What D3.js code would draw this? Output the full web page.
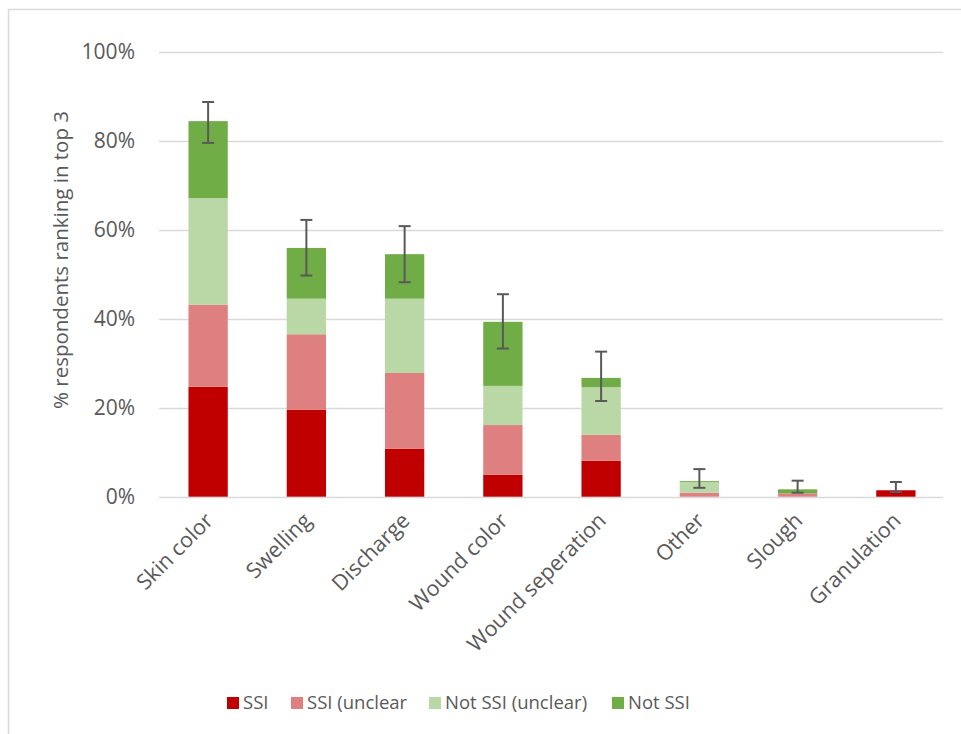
<!DOCTYPE html>
<html>
<head>
<meta charset="utf-8">
<script src="https://cdn.jsdelivr.net/npm/d3@7"></script>
<style>
  html, body { margin: 0; padding: 0; background: #fff; }
  svg { display: block; }
  text { font-family: "Open Sans", "Noto Sans", sans-serif; fill: #595959; }
</style>
</head>
<body>
<svg id="chart" width="961" height="734"></svg>
<script>
// ---- data (percent) ----
const categories = ["Skin color", "Swelling", "Discharge", "Wound color", "Wound seperation", "Other", "Slough", "Granulation"];
const seriesNames = ["SSI", "SSI (unclear", "Not SSI (unclear)", "Not SSI"];
const ssi            = [24.7, 19.5, 10.8, 4.9, 8.1, 0.0, 0.0, 1.45];
const ssiUnclear     = [18.4, 17.0, 17.0, 11.2, 5.8, 0.9, 0.76, 0.0];
const notSsiUnclear  = [24.0, 8.0, 16.7, 8.8, 10.7, 2.4, 0.0, 0.0];
const notSsi         = [17.3, 11.4, 10.0, 14.4, 2.1, 0.2, 0.9, 0.0];
const errHigh        = [88.7, 62.2, 60.8, 45.5, 32.6, 6.2, 3.6, 3.3];
const errLow         = [79.5, 49.7, 48.2, 33.3, 21.5, 2.0, 0.9, 1.05];
const yTicks = [0, 20, 40, 60, 80, 100];
const yTitle = "% respondents ranking in top 3";

const colors = ["#C00000", "#DF8080", "#BAD8A5", "#70AD47"];

// ---- layout ----
const svg = d3.select("#chart");
const plot = { left: 159, right: 945, top: 51.7, bottom: 496.7 };

const x = d3.scaleBand().domain(categories).range([plot.left, plot.right]).paddingInner(0.6).paddingOuter(0.3);
const y = d3.scaleLinear().domain([0, 100]).range([plot.bottom, plot.top]);

// chart border
svg.append("path")
  .attr("d", "M8.5,734 L8.5,9.5 L961,9.5")
  .attr("fill", "none").attr("stroke", "#d9d9d9").attr("stroke-width", 1.5);

// gridlines
svg.append("g").selectAll("line").data(yTicks).join("line")
  .attr("x1", plot.left).attr("x2", 943)
  .attr("y1", d => Math.round(y(d)) + 0.5).attr("y2", d => Math.round(y(d)) + 0.5)
  .attr("stroke", "#d9d9d9").attr("stroke-width", 1.5);

// y axis labels
const yAxis = d3.axisLeft(y).tickValues(yTicks).tickFormat(d => d + "%").tickSize(0).tickPadding(0);
const ya = svg.append("g").attr("transform", "translate(135,0)").call(yAxis);
ya.select(".domain").remove();
ya.selectAll("text").attr("font-size", 21).attr("fill", "#595959")
  .style("font-family", '"Open Sans", sans-serif');

// y title
svg.append("text")
  .attr("transform", "translate(68,260) rotate(-90)")
  .attr("text-anchor", "middle")
  .attr("font-size", 20.5)
  .text(yTitle);

// stacked bars
const rows = categories.map((c, i) => ({ cat: c, s0: ssi[i], s1: ssiUnclear[i], s2: notSsiUnclear[i], s3: notSsi[i] }));
const stack = d3.stack().keys(["s0", "s1", "s2", "s3"]);
const stacked = stack(rows);

svg.append("g").selectAll("g").data(stacked).join("g")
  .attr("fill", (d, i) => colors[i])
  .selectAll("rect").data(d => d).join("rect")
  .attr("x", d => x(d.data.cat))
  .attr("width", x.bandwidth())
  .attr("y", d => y(d[1]))
  .attr("height", d => Math.max(0, y(d[0]) - y(d[1])));

// error bars
const eg = svg.append("g").attr("stroke", "#595959").attr("stroke-width", 2);
categories.forEach((c, i) => {
  const cx = x(c) + x.bandwidth() / 2;
  eg.append("line").attr("x1", cx).attr("x2", cx).attr("y1", y(errLow[i])).attr("y2", y(errHigh[i]));
  eg.append("line").attr("x1", cx - 6).attr("x2", cx + 6).attr("y1", y(errLow[i])).attr("y2", y(errLow[i]));
  eg.append("line").attr("x1", cx - 6).attr("x2", cx + 6).attr("y1", y(errHigh[i])).attr("y2", y(errHigh[i]));
});

// x axis labels
const xAxis = d3.axisBottom(x).tickSize(0).tickPadding(0);
const xa = svg.append("g").attr("transform", `translate(0,${plot.bottom})`).call(xAxis);
xa.select(".domain").remove();
xa.selectAll("text")
  .attr("font-size", 21.5).attr("fill", "#595959")
  .style("font-family", '"Open Sans", sans-serif')
  .attr("text-anchor", "end")
  .attr("dy", "0.35em")
  .attr("transform", "translate(1,20) rotate(-45)");

// legend
const legendX = [227, 291, 429, 612];
const lg = svg.append("g");
seriesNames.forEach((n, i) => {
  lg.append("rect").attr("x", legendX[i]).attr("y", 697).attr("width", 12).attr("height", 12).attr("fill", colors[i]);
  lg.append("text").attr("x", legendX[i] + 16).attr("y", 703).attr("dy", "0.35em")
    .attr("font-size", 18.5).text(n);
});
</script>
</body>
</html>
